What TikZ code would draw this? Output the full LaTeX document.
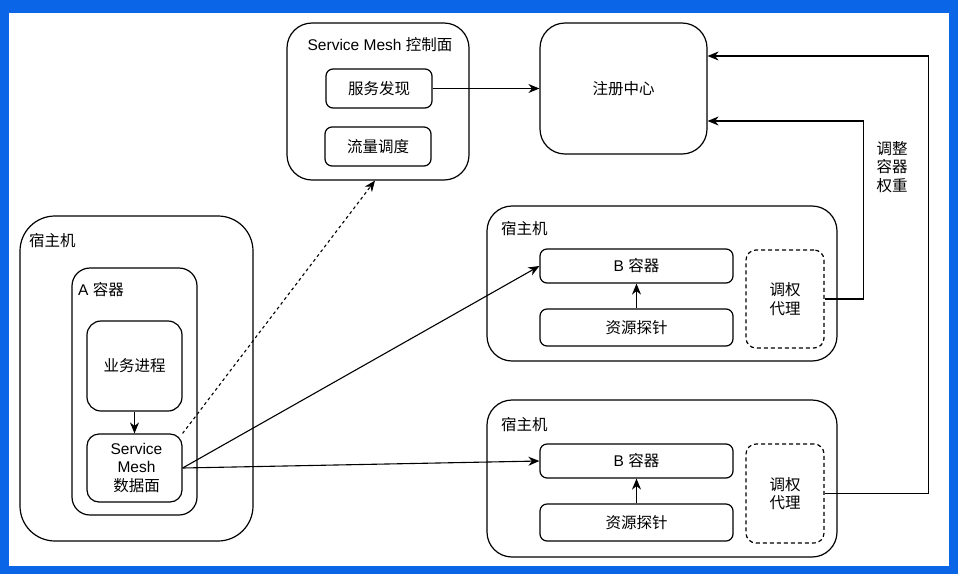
\documentclass[tikz,border=0pt]{standalone}
\usepackage{fontspec}
\setmainfont{Liberation Sans}
\newfontfamily\cjk{Noto Sans CJK SC}
\usetikzlibrary{arrows.meta,calc}
\definecolor{frameblue}{RGB}{10,102,230}
\begin{document}
\begin{tikzpicture}[x=1pt,y=-1pt,
  every node/.style={font=\fontsize{15.5}{18.5}\selectfont, inner sep=0pt, align=center},
  bigbox/.style={draw, line width=1.2pt, rounded corners=25pt},
  smallbox/.style={draw, line width=1.2pt, rounded corners=7pt},
  dashbox/.style={draw, line width=1.2pt, rounded corners=10pt, dash pattern=on 4pt off 3pt},
  arr/.style={line width=1.1pt, -{Stealth[length=11pt,width=9pt,inset=3.5pt]}},
  lbl/.style={anchor=west}]
\useasboundingbox (0,0) rectangle (958,574);
\fill[frameblue] (0,0) rectangle (958,574);
\fill[white] (9,13) rectangle (949,566);

% control plane
\node[bigbox, minimum width=182pt, minimum height=157pt] (ctrl) at (378,101.5) {};
\node (ctrlt) at (380,45) {Service Mesh {\cjk 控制面}};
\node[smallbox, minimum width=106pt, minimum height=39pt] (sd) at (379,88.5) {\cjk 服务发现};
\node[smallbox, minimum width=106pt, minimum height=39pt] (ll) at (378,146.5) {\cjk 流量调度};

% registry
\node[bigbox, minimum width=167pt, minimum height=131pt] (reg) at (623.5,88.5) {\cjk 注册中心};

% host A
\node[bigbox, rounded corners=35pt, minimum width=233pt, minimum height=325pt] (hostA) at (136.5,378.5) {};
\node[lbl] (hostAt) at (29,241) {\cjk 宿主机};
\node[smallbox, rounded corners=18pt, minimum width=125pt, minimum height=247pt] (ca) at (134.5,391.5) {};
\node[lbl] (cat) at (78,290) {A {\cjk 容器}};
\node[smallbox, rounded corners=14pt, minimum width=95pt, minimum height=90pt] (biz) at (134.5,366) {\cjk 业务进程};
\node[smallbox, rounded corners=12pt, minimum width=95pt, minimum height=68pt] (smd) at (134.5,468) {};
\node (smdt) at (136.5,468) {Service\\Mesh\\{\cjk 数据面}};

% host B1
\node[bigbox, minimum width=350pt, minimum height=155pt] (h1) at (662,283.5) {};
\node[lbl] (h1t) at (501,229) {\cjk 宿主机};
\node[smallbox, minimum width=193pt, minimum height=34pt] (b1) at (636.5,266) {B {\cjk 容器}};
\node[smallbox, minimum width=193pt, minimum height=37pt] (p1) at (636.5,327.5) {\cjk 资源探针};
\node[dashbox, minimum width=78pt, minimum height=98pt] (w1) at (785,299) {\cjk 调权\\\cjk 代理};

% host B2
\node[bigbox, minimum width=350pt, minimum height=157pt] (h2) at (662,478.5) {};
\node[lbl] (h2t) at (501,425) {\cjk 宿主机};
\node[smallbox, minimum width=193pt, minimum height=34pt] (b2) at (636.5,461) {B {\cjk 容器}};
\node[smallbox, minimum width=193pt, minimum height=37pt] (p2) at (636.5,522.5) {\cjk 资源探针};
\node[dashbox, minimum width=78pt, minimum height=99pt] (w2) at (785,493.5) {\cjk 调权\\\cjk 代理};

% label
\node (adj) at (892,167) {\cjk 调整\\\cjk 容器\\\cjk 权重};

% connectors
\draw[arr] (sd) -- (reg);
\draw[arr] (biz) -- (smd);
\draw[arr] (p1) -- (b1);
\draw[arr] (p2) -- (b2);
\draw[arr, dash pattern=on 3pt off 3pt] (smd.north east) -- ([xshift=-3pt]ctrl.south);
\draw[arr] (smd.east) -- (b1.west);
\draw[arr] (smd.east) -- (b2.west);
\draw[arr] (w1.east) -- ++(39,0) |- ([yshift=-32.5pt]reg.east);
\draw[arr] (w2.east) -- ++(104,0) |- ([yshift=32.5pt]reg.east);
\end{tikzpicture}
\end{document}
